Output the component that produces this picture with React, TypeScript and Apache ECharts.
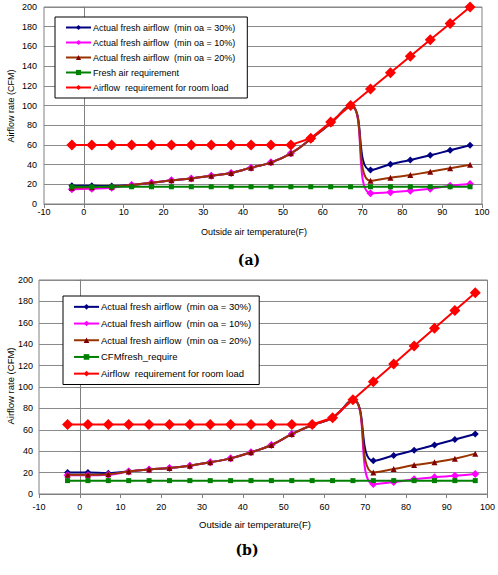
import React, { useEffect, useRef } from "react";
import * as echarts from "echarts";

const temps = [-3, 2, 7, 12, 17, 22, 27, 32, 37, 42, 47, 52, 57, 62, 67, 72, 77, 82, 87, 92, 97];

const namesA = [
  "Actual fresh airflow  (min oa = 30%)",
  "Actual fresh airflow  (min oa = 10%)",
  "Actual fresh airflow  (min oa = 20%)",
  "Fresh air requirement",
  "Airflow  requirement for room load",
];
const namesB = [
  "Actual fresh airflow  (min oa = 30%)",
  "Actual fresh airflow  (min oa = 10%)",
  "Actual fresh airflow  (min oa = 20%)",
  "CFMfresh_require",
  "Airflow  requirement for room load",
];

// Chart (a)
const blueA = [18.6, 18.5, 18.3, 19.3, 21.6, 24, 26, 28.7, 31.5, 36.9, 42.3, 51.4, 66, 82, 100, 34.5, 40.3, 44.7, 49.4, 54.5, 59.6];
const pinkA = [15, 15.5, 16.5, 19.3, 21.6, 24, 26, 28.7, 31.5, 36.9, 42.3, 51.4, 66, 82, 100, 11, 12, 13.5, 15.5, 18.6, 20.3];
const brownA = [16.5, 17, 17.5, 19.3, 21.6, 24, 26, 28.7, 31.5, 36.9, 42.3, 51.4, 66, 82, 100, 23.5, 26.7, 29.4, 32.8, 36.2, 39.9];
const greenA = [17.5, 17.5, 17.5, 17.5, 17.5, 17.5, 17.5, 17.5, 17.5, 17.5, 17.5, 17.5, 17.5, 17.5, 17.5, 17.5, 17.5, 17.5, 17.5, 17.5, 17.5];
const redA = [60, 60, 60, 60, 60, 60, 60, 60, 60, 60, 60, 60, 66.7, 83.3, 100, 116.7, 133.3, 150, 166.7, 183.3, 200];

// Chart (b)
const blueB = [20, 20, 19.5, 21.2, 23, 24.3, 26.5, 29.6, 33.3, 39, 45.8, 56, 64.5, 71.3, 88, 31, 36, 40.8, 45.8, 51, 56];
const pinkB = [17.5, 17.5, 18, 21, 23, 24.3, 26.5, 29.6, 33.3, 39, 45.8, 56, 64.5, 71.3, 88, 9.3, 11.2, 13.7, 15.6, 17, 18.7];
const brownB = [18, 18, 18.5, 21, 23, 24.3, 26.5, 29.6, 33.3, 39, 45.8, 56, 64.5, 71.3, 88, 20.2, 23.4, 27, 29.6, 33, 37.7];
const greenB = [12.5, 12.5, 12.5, 12.5, 12.5, 12.5, 12.5, 12.5, 12.5, 12.5, 12.5, 12.5, 12.5, 12.5, 12.5, 12.5, 12.5, 12.5, 12.5, 12.5, 12.5];
const redB = [65, 65, 65, 65, 65, 65, 65, 65, 65, 65, 65, 65, 65, 71.3, 88, 105, 121.5, 138.3, 155, 171.5, 188];

const xTicks = { min: -10, max: 100, interval: 10 };
const yTicks = { min: 0, max: 200, interval: 20 };

const FONT = "Liberation Sans, Arial, sans-serif";

const pairs = (ys: number[]) => ys.map((y, i) => [temps[i], y]);

const styles = [
  { line: "#000080", mark: "#000080", symbol: "diamond", size: 7, smooth: 0.5 },
  { line: "#FF00FF", mark: "#FF00FF", symbol: "diamond", size: 8, smooth: 0.5 },
  { line: "#993300", mark: "#800000", symbol: "triangle", size: 6, smooth: 0.5 },
  { line: "#008000", mark: "#008000", symbol: "rect", size: 5, smooth: false },
  { line: "#FF0000", mark: "#FF0000", symbol: "diamond", size: 11, smooth: false },
];

function makeSeries(names: string[], data: number[][], idx: number) {
  return data.map((ys, i) => ({
    type: "line",
    name: names[i],
    xAxisIndex: idx,
    yAxisIndex: idx,
    data: pairs(ys),
    smooth: styles[i].smooth,
    symbol: styles[i].symbol,
    symbolSize: styles[i].size,
    showSymbol: true,
    lineStyle: { color: styles[i].line, width: 2 },
    itemStyle: { color: styles[i].mark },
    z: 2 + i,
  }));
}

function axisX(gridIndex: number, margin: number) {
  return {
    type: "value",
    gridIndex,
    ...xTicks,
    axisLine: { show: true, lineStyle: { color: "#808080", width: 1 } },
    axisTick: { show: true, inside: false, length: 4, lineStyle: { color: "#808080" } },
    axisLabel: { color: "#000", fontSize: 9, fontFamily: FONT, margin },
    splitLine: { show: false },
  };
}

function axisY(gridIndex: number, margin: number) {
  return {
    type: "value",
    gridIndex,
    ...yTicks,
    axisLine: { show: true, lineStyle: { color: "#808080", width: 1 } },
    axisTick: { show: true, inside: false, length: 4, lineStyle: { color: "#808080" } },
    axisLabel: { color: "#000", fontSize: 9, fontFamily: FONT, margin },
    splitLine: { show: true, lineStyle: { color: "#8a8a8a", width: 1 } },
  };
}

export default function App() {
  const ref = useRef<HTMLDivElement>(null);
  useEffect(() => {
    if (!ref.current) return;
    const chart = echarts.init(ref.current, null, { renderer: "svg" });
    chart.setOption({
      animation: false,
      backgroundColor: "#fff",
      grid: [
        { left: 44, right: 16, top: 7, bottom: 371, show: true, borderColor: "#808080", borderWidth: 1, backgroundColor: "#fff" },
        { left: 39, right: 9, top: 280, bottom: 81, show: true, borderColor: "#808080", borderWidth: 1, backgroundColor: "#fff" },
      ],
      xAxis: [axisX(0, 3), axisX(1, 8)],
      yAxis: [axisY(0, 7), axisY(1, 6)],
      legend: [
        {
          data: namesA,
          orient: "vertical",
          left: 55,
          top: 17,
          padding: [5, 12, 5, 10],
          itemGap: 4,
          itemWidth: 25,
          itemHeight: 6.5,
          backgroundColor: "#fff",
          borderColor: "#000",
          borderWidth: 1,
          borderRadius: 0,
          selectedMode: false,
          textStyle: { color: "#000", fontSize: 9, lineHeight: 11, fontFamily: FONT, padding: [0, 0, 0, -3] },
        },
        {
          data: namesB,
          orient: "vertical",
          left: 63,
          top: 296,
          padding: [5, 8, 5, 10],
          itemGap: 5,
          itemWidth: 25,
          itemHeight: 7,
          backgroundColor: "#fff",
          borderColor: "#000",
          borderWidth: 1,
          borderRadius: 0,
          selectedMode: false,
          textStyle: { color: "#000", fontSize: 9.5, lineHeight: 11.7, fontFamily: FONT, padding: [0, 0, 0, -3] },
        },
      ],
      graphic: [
        { type: "text", x: 254, y: 232, style: { text: "Outside air temperature(F)", font: `9px ${FONT}`, fill: "#000", textAlign: "center", textVerticalAlign: "middle" } },
        { type: "text", x: 255, y: 524, style: { text: "Outside air temperature(F)", font: `9.5px ${FONT}`, fill: "#000", textAlign: "center", textVerticalAlign: "middle" } },
        { type: "text", x: 11, y: 106, rotation: Math.PI / 2, style: { text: "Airflow rate (CFM)", font: `9px ${FONT}`, fill: "#000", textAlign: "center", textVerticalAlign: "middle" } },
        { type: "text", x: 10, y: 386, rotation: Math.PI / 2, style: { text: "Airflow rate (CFM)", font: `9.5px ${FONT}`, fill: "#000", textAlign: "center", textVerticalAlign: "middle" } },
        { type: "text", x: 249, y: 260, style: { text: "(a)", font: `bold 14px "DejaVu Serif", "Liberation Serif", serif`, fill: "#000", textAlign: "center", textVerticalAlign: "middle" } },
        { type: "text", x: 247, y: 550, style: { text: "(b)", font: `bold 14px "DejaVu Serif", "Liberation Serif", serif`, fill: "#000", textAlign: "center", textVerticalAlign: "middle" } },
      ],
      series: [
        ...makeSeries(namesA, [blueA, pinkA, brownA, greenA, redA], 0),
        ...makeSeries(namesB, [blueB, pinkB, brownB, greenB, redB], 1),
      ],
    });
    return () => chart.dispose();
  }, []);
  return <div ref={ref} style={{ position: "fixed", left: 0, top: 0, width: 498, height: 575 }} />;
}
